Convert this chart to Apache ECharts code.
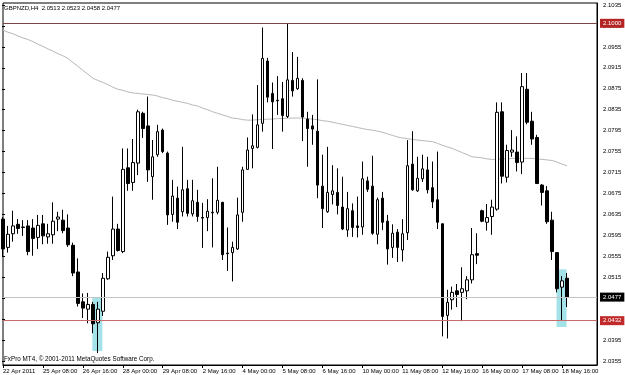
<!DOCTYPE html>
<html>
<head>
<meta charset="utf-8">
<script src="https://cdn.jsdelivr.net/npm/echarts@6/dist/echarts.min.js"></script>
<style>html,body{margin:0;padding:0;background:#fff}#c{width:625px;height:375px}</style>
</head>
<body>
<div id="c"></div>
<script>
const days = ['22 Apr','25 Apr','26 Apr','27 Apr','28 Apr','29 Apr','2 May','3 May','4 May','5 May','6 May','9 May','10 May','11 May','12 May','13 May','16 May','17 May','18 May'];
const hours = ['00:00','04:00','08:00','12:00','16:00','20:00'];
const tickLabels = ['22 Apr 2011','25 Apr 08:00','26 Apr 16:00','28 Apr 00:00','29 Apr 08:00','2 May 16:00','4 May 00:00','5 May 08:00','6 May 16:00','10 May 00:00','11 May 08:00','12 May 16:00','16 May 00:00','17 May 08:00','18 May 16:00'];

const open = [2.0626,2.0572,2.0598,2.0616,2.0611,2.0613,2.0609,2.0591,2.0617,2.0592,
2.0596,2.0626,2.0624,2.0609,2.0576,2.0525,2.0468,2.0454,2.0463,2.0428,
2.0450,2.0512,2.0556,2.0607,2.0564,2.0724,2.0696,2.0733,2.0828,2.0804,
2.0707,2.0749,2.0796,2.0752,2.0635,2.0666,2.0640,2.0684,2.0636,2.0658,
2.0629,2.0629,2.0639,2.0639,2.0658,2.0561,2.0562,2.0569,2.0639,2.0721,
2.0761,2.0763,2.0809,2.0928,2.0866,2.0853,2.0856,2.0822,2.0891,2.0875,
2.0891,2.0817,2.0804,2.0794,2.0689,2.0640,2.0673,2.0677,2.0649,2.0605,
2.0642,2.0613,2.0611,2.0699,2.0689,2.0597,2.0666,2.0622,2.0572,2.0601,
2.0567,2.0600,2.0731,2.0680,2.0703,2.0720,2.0686,2.0663,2.0617,2.0442,
2.0472,2.0489,2.0486,2.0489,2.0510,2.0560,2.0642,2.0620,2.0631,2.0645,
2.0831,2.0706,2.0754,2.0754,2.0735,2.0874,2.0813,2.0782,2.0691,2.0680,
2.0624,2.0562,2.0496,2.0513];
const high = [2.0630,2.0613,2.0642,2.0626,2.0624,2.0624,2.0626,2.0634,2.0634,2.0617,
2.0658,2.0640,2.0644,2.0635,2.0581,2.0551,2.0484,2.0485,2.0468,2.0468,
2.0523,2.0564,2.0669,2.0617,2.0761,2.0761,2.0779,2.0835,2.0831,2.0860,
2.0777,2.0806,2.0799,2.0755,2.0701,2.0688,2.0764,2.0701,2.0701,2.0682,
2.0657,2.0664,2.0704,2.0726,2.0659,2.0610,2.0583,2.0667,2.0726,2.0782,
2.0826,2.0882,2.0992,2.0934,2.0887,2.0899,2.0888,2.1000,2.0945,2.0936,
2.0895,2.0831,2.0825,2.0893,2.0749,2.0764,2.0729,2.0723,2.0707,2.0678,
2.0656,2.0669,2.0736,2.0707,2.0747,2.0667,2.0678,2.0634,2.0616,2.0607,
2.0626,2.0777,2.0794,2.0745,2.0749,2.0745,2.0736,2.0755,2.0618,2.0491,
2.0497,2.0502,2.0534,2.0517,2.0609,2.0599,2.0644,2.0655,2.0663,2.0849,
2.0849,2.0768,2.0796,2.0784,2.0905,2.0905,2.0831,2.0787,2.0693,2.0689,
2.0640,2.0562,2.0517,2.0523];
const low = [2.0554,2.0562,2.0583,2.0598,2.0594,2.0557,2.0556,2.0569,2.0578,2.0579,
2.0579,2.0603,2.0599,2.0573,2.0517,2.0459,2.0437,2.0427,2.0408,2.0370,
2.0441,2.0510,2.0548,2.0564,2.0561,2.0680,2.0680,2.0710,2.0781,2.0697,
2.0663,2.0745,2.0752,2.0615,2.0621,2.0607,2.0631,2.0631,2.0631,2.0621,
2.0571,2.0603,2.0572,2.0635,2.0548,2.0527,2.0507,2.0567,2.0621,2.0720,
2.0723,2.0761,2.0793,2.0849,2.0760,2.0825,2.0793,2.0819,2.0860,2.0873,
2.0775,2.0726,2.0768,2.0666,2.0609,2.0638,2.0654,2.0635,2.0605,2.0592,
2.0592,2.0591,2.0596,2.0678,2.0596,2.0578,2.0605,2.0539,2.0552,2.0544,
2.0545,2.0586,2.0680,2.0678,2.0697,2.0675,2.0647,2.0607,2.0402,2.0398,
2.0453,2.0458,2.0431,2.0473,2.0503,2.0540,2.0620,2.0604,2.0596,2.0642,
2.0694,2.0696,2.0745,2.0717,2.0712,2.0807,2.0768,2.0693,2.0652,2.0617,
2.0548,2.0486,2.0432,2.0458];
const close = [2.0569,2.0597,2.0613,2.0608,2.0610,2.0564,2.0589,2.0614,2.0594,2.0598,
2.0622,2.0630,2.0604,2.0577,2.0523,2.0465,2.0456,2.0463,2.0426,2.0454,
2.0513,2.0553,2.0607,2.0566,2.0721,2.0694,2.0734,2.0831,2.0799,2.0720,
2.0745,2.0793,2.0755,2.0634,2.0670,2.0620,2.0682,2.0637,2.0661,2.0631,
2.0628,2.0641,2.0638,2.0662,2.0558,2.0560,2.0572,2.0634,2.0720,2.0758,
2.0766,2.0806,2.0933,2.0859,2.0850,2.0852,2.0824,2.0892,2.0871,2.0895,
2.0821,2.0799,2.0798,2.0691,2.0646,2.0677,2.0680,2.0652,2.0607,2.0646,
2.0610,2.0610,2.0703,2.0683,2.0599,2.0663,2.0620,2.0569,2.0599,2.0572,
2.0598,2.0728,2.0682,2.0704,2.0722,2.0682,2.0659,2.0620,2.0440,2.0467,
2.0486,2.0482,2.0493,2.0510,2.0558,2.0557,2.0622,2.0629,2.0649,2.0830,
2.0708,2.0757,2.0758,2.0734,2.0879,2.0811,2.0779,2.0694,2.0677,2.0621,
2.0564,2.0493,2.0508,2.0477];
const movingAverage = [2.0987,2.0983,2.0980,2.0976,2.0972,2.0969,2.0965,
2.0960,2.0956,2.0951,2.0947,2.0942,2.0938,2.0933,
2.0925,2.0918,2.0910,2.0903,2.0895,
2.0891,2.0887,2.0883,2.0878,2.0874,
2.0872,2.0869,2.0867,
2.0866,2.0865,2.0864,2.0863,
2.0861,2.0858,2.0856,2.0853,
2.0851,2.0849,2.0847,2.0844,2.0842,
2.0838,2.0835,2.0831,
2.0828,2.0825,2.0822,2.0819,
2.0818,2.0816,2.0815,
2.0815,2.0816,2.0816,2.0817,2.0817,2.0818,2.0818,2.0819,
2.0819,2.0819,2.0819,
2.0818,2.0817,2.0816,2.0814,2.0813,
2.0811,2.0809,2.0807,2.0805,2.0803,2.0801,
2.0799,2.0797,2.0796,2.0794,2.0792,
2.0789,2.0786,2.0783,
2.0781,2.0780,2.0778,
2.0777,2.0776,2.0775,2.0774,
2.0771,2.0767,2.0764,2.0761,
2.0757,2.0753,2.0749,2.0745,
2.0744,2.0743,2.0741,2.0740,
2.0740,2.0741,2.0741,2.0742,
2.0742,2.0742,2.0742,2.0742,
2.0741,2.0740,2.0739,2.0738,
2.0735,2.0731,2.0728];

const levelValues = [2.1000, 2.0477, 2.0432];
const levelLineColors = ['#7a4545', '#c4c4c4', '#c86a6a'];
const levelBoxColors = ['#b52424', '#000000', '#c02a2a'];

const highlightIdx = [19, 112];
const highlightTop = [2.0477, 2.0530];
const highlightBottom = [2.0374, 2.0420];

const titleText = 'GBPNZD,H4  2.0513 2.0523 2.0458 2.0477';
const copyrightText = 'FxPro MT4, \u00a9 2001-2011 MetaQuotes Software Corp.';

const categories = [];
days.forEach(d => hours.forEach(h => categories.push(d + ' ' + h)));
const candleData = open.map((o, i) => [o, close[i], low[i], high[i]]);
const FONT = '"Liberation Sans", Arial, sans-serif';
const FS = 6;

const chart = echarts.init(document.getElementById('c'), null, {renderer: 'canvas'});
chart.setOption({
  animation: false,
  backgroundColor: '#ffffff',
  textStyle: {fontFamily: FONT},
  title: {text: titleText, left: 4, top: 5, padding: 0,
    textStyle: {fontSize: FS, fontWeight: 'normal', color: '#000', fontFamily: FONT}},
  graphic: [{type: 'text', left: 4, top: 356, z: 10,
    style: {text: copyrightText, font: '6.3px ' + FONT, fill: '#000'}}],
  grid: [
    {left: 2, right: 28, top: 3, bottom: 10, show: true, borderColor: '#000', borderWidth: 1},
    {left: 2, right: 28, top: 5, bottom: 14}
  ],
  xAxis: [
    {type: 'category', gridIndex: 0, data: categories, boundaryGap: false, max: 119,
      axisLine: {lineStyle: {color: '#000'}},
      axisTick: {interval: 7, length: 3, lineStyle: {color: '#000'}},
      axisLabel: {interval: 7, fontSize: FS, fontFamily: FONT, color: '#000', align: 'left', margin: 3,
        formatter: (v, i) => (i % 8 === 0 && tickLabels[i / 8]) ? tickLabels[i / 8] : ''},
      splitLine: {show: false}},
    {type: 'value', gridIndex: 1, show: false}
  ],
  yAxis: [
    {type: 'value', gridIndex: 0, position: 'right', min: 2.034732, max: 2.10388,
      axisLine: {show: true, lineStyle: {color: '#000'}}, axisTick: {show: false},
      axisLabel: {show: false}, splitLine: {show: false}},
    {type: 'value', gridIndex: 1, position: 'right', min: 2.0355, max: 2.1035, interval: 0.004,
      axisLine: {show: false}, axisTick: {show: true, length: 3, lineStyle: {color: '#000'}},
      axisLabel: {fontSize: FS, fontFamily: FONT, color: '#000', margin: 6, formatter: v => v.toFixed(4)},
      splitLine: {show: false}}
  ],
  series: [
    {type: 'custom', xAxisIndex: 0, yAxisIndex: 0, z: 1, silent: true,
      encode: {x: 0, y: [1, 2]},
      data: highlightIdx.map((x, k) => [x, highlightTop[k], highlightBottom[k]]),
      renderItem: (params, api) => {
        const p1 = api.coord([api.value(0), api.value(1)]);
        const p2 = api.coord([api.value(0), api.value(2)]);
        return {type: 'rect', shape: {x: p1[0] - 5.5, y: p1[1], width: 10, height: p2[1] - p1[1]},
          style: {fill: '#a3e2e8'}};
      }},
    {type: 'line', xAxisIndex: 0, yAxisIndex: 0, data: movingAverage, showSymbol: false, silent: true,
      z: 2, lineStyle: {color: '#b8b8b8', width: 1}},
    {type: 'candlestick', xAxisIndex: 0, yAxisIndex: 0, data: candleData, barWidth: 3, z: 3,
      itemStyle: {color: '#ffffff', color0: '#000000', borderColor: '#000000', borderColor0: '#000000', borderWidth: 1},
      markLine: {symbol: 'none', silent: true, animation: false, precision: 4,
        data: levelValues.map((v, k) => ({
          yAxis: v,
          lineStyle: {color: levelLineColors[k], type: 'solid', width: 1},
          label: {show: true, position: 'end', distance: 3, formatter: () => v.toFixed(4),
            backgroundColor: levelBoxColors[k], color: '#fff', fontSize: FS, fontFamily: FONT, padding: [2, 3, 1, 3]}
        }))}}
  ]
});
</script>
</body>
</html>
